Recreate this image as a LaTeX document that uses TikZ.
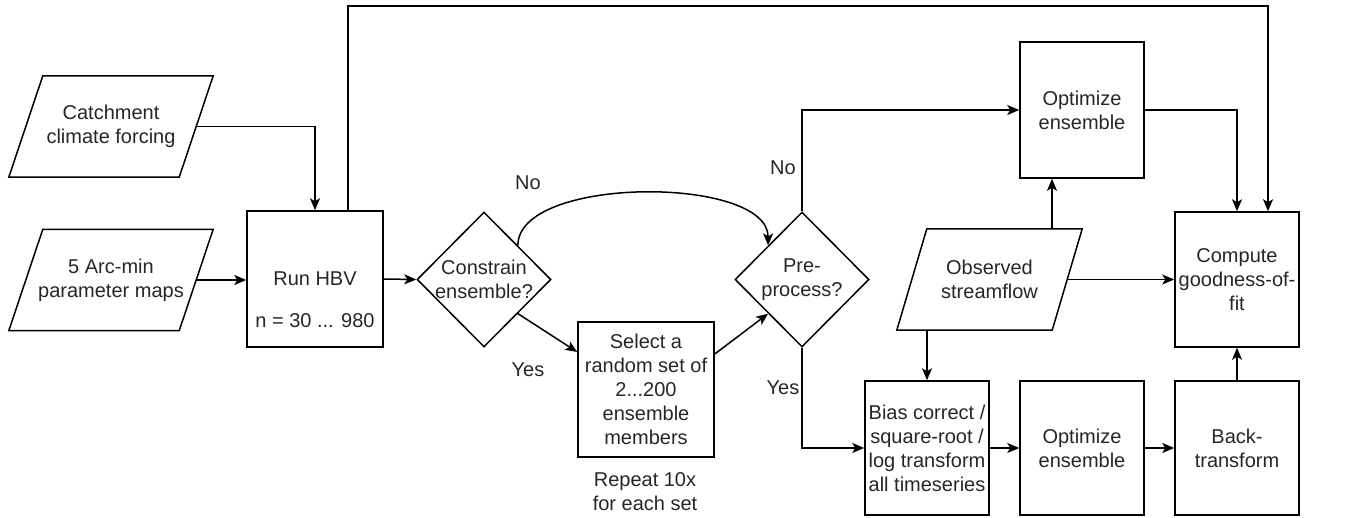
\documentclass[tikz,border=0pt]{standalone}
\usepackage{fontspec}
\setmainfont{Liberation Sans}
\usetikzlibrary{shapes.geometric,arrows.meta,calc}
\begin{document}
\begin{tikzpicture}[x=1pt,y=-1pt,
  every node/.style={font=\fontsize{20}{24}\selectfont, text=black!85},
  ln/.style={line width=1.5pt, draw=black, line join=miter},
  arr/.style={ln, -{Stealth[length=12pt,width=10pt,inset=3pt]}},
  box/.style={ln, rectangle, inner sep=0pt, align=center},
  paratext/.style={rectangle, inner sep=0pt, align=center},
  diam/.style={ln, diamond, inner sep=0pt, minimum width=134pt, minimum height=135pt},
  txt/.style={align=center, inner sep=0pt}]
\useasboundingbox (0,0) rectangle (1352,517);

% inputs (parallelogram bounding boxes)
\node[paratext, minimum width=204pt, minimum height=101pt] (cat) at (111,126.5) {Catchment\\climate forcing};
\node[paratext, minimum width=204pt, minimum height=101pt] (par) at (111,280) {5 Arc-min\\parameter maps};
\node[paratext, minimum width=185pt, minimum height=101pt] (obs) at (989.5,279.5) {Observed\\streamflow};
\draw[ln] (cat.south west) -- ($(cat.north west)+(34,0)$) -- (cat.north east) -- ($(cat.south east)+(-34,0)$) -- cycle;
\draw[ln] (par.south west) -- ($(par.north west)+(34,0)$) -- (par.north east) -- ($(par.south east)+(-34,0)$) -- cycle;
\draw[ln] (obs.south west) -- ($(obs.north west)+(30,0)$) -- (obs.north east) -- ($(obs.south east)+(-30,0)$) -- cycle;
\coordinate (catE) at ($(cat.east)+(-17,0)$);
\coordinate (parE) at ($(par.east)+(-17,0)$);
\coordinate (obsE) at ($(obs.east)+(-15,0)$);
\coordinate (obsN) at ($(obs.north)+(62.5,0)$);
\coordinate (obsS) at ($(obs.south)+(-62.5,0)$);

% run HBV
\node[box, minimum width=136pt, minimum height=136pt] (hbv) at (315,279) {Run HBV};
\node[txt] (hbvn) at (315,321) {n = 30 ... 980};

% decisions
\node[diam] (con) at (484,279.5) {};
\node[txt] (cont) at (con) {Constrain\\ensemble?};
\node[diam] (pre) at (802,279.5) {};
\node[txt] (pret) at (pre) {Pre-\\process?};

% select
\node[box, minimum width=136pt, minimum height=135pt] (sel) at (646,389.5) {Select a\\random set of\\2...200\\ensemble\\members};
\node[txt] (rep) at (645,491.5) {Repeat 10x\\for each set};

% right part
\node[box, minimum width=124pt, minimum height=136pt] (opt1) at (1082,110) {Optimize\\ensemble};
\node[box, minimum width=124pt, minimum height=135pt] (cmp) at (1237,279.5) {Compute\\goodness-of-\\fit};
\node[box, minimum width=124pt, minimum height=134pt] (bias) at (927,448) {Bias correct /\\square-root /\\log transform\\all timeseries};
\node[box, minimum width=124pt, minimum height=134pt] (opt2) at (1082,448) {Optimize\\ensemble};
\node[box, minimum width=124pt, minimum height=134pt] (back) at (1237,448) {Back-\\transform};

\coordinate (topy) at (0,6);
\coordinate (h1) at ($(hbv.north)+(33,0)$);
\coordinate (c1) at ($(cmp.north)+(31,0)$);
\coordinate (s1) at ($(sel.west)+(0,-37.5)$);
\coordinate (s2) at ($(sel.east)+(0,-35.5)$);

% connectors
\draw[arr] (catE) -| (hbv.north);
\draw[arr] (parE) -- (parE -| hbv.west);
\draw[arr] (h1) -- (h1 |- topy) -| (c1);
\draw[arr] (hbv.east) -- (con.west);
\draw[arr] (con.north east) .. controls +(0,-70) and +(0,-70) .. (pre.north west);
\node[txt] (no1) at (528,183) {No};
\draw[arr] (con.south east) -- (s1);
\node[txt] (yes1) at (528,370) {Yes};
\draw[arr] (s2) -- (pre.south west);
\draw[arr] (pre.north) |- (opt1.west);
\node[txt] (no2) at (783,168) {No};
\draw[arr] (pre.south) |- (bias.west);
\node[txt] (yes2) at (783,388) {Yes};
\draw[arr] (opt1.east) -| (cmp.north);
\draw[arr] (obsN) -- (obsN |- opt1.south);
\draw[arr] (obsE) -- (obsE -| cmp.west);
\draw[arr] (obsS) -- (bias.north);
\draw[arr] (bias.east) -- (opt2.west);
\draw[arr] (opt2.east) -- (back.west);
\draw[arr] (back.north) -- (cmp.south);
\end{tikzpicture}
\end{document}
